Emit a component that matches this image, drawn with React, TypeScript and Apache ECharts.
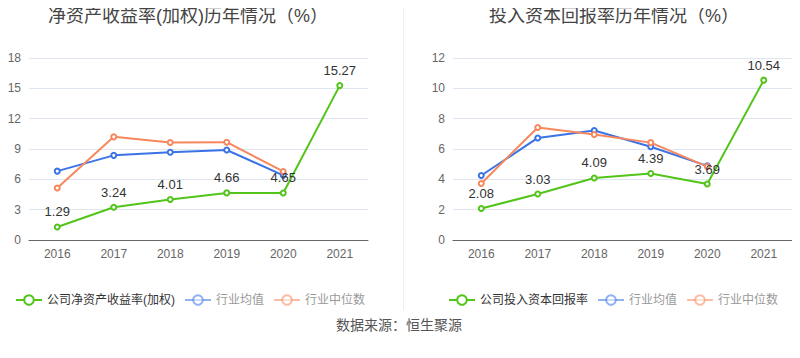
import React, { useEffect, useRef } from "react";
import * as echarts from "echarts";

const years = ["2016", "2017", "2018", "2019", "2020", "2021"];
const roeCompany = [1.29, 3.24, 4.01, 4.66, 4.65, 15.27];
const roeMean: (number | null)[] = [6.81, 8.37, 8.67, 8.9, 6.4, null];
const roeMedian: (number | null)[] = [5.15, 10.2, 9.64, 9.67, 6.78, null];
const roicCompany = [2.08, 3.03, 4.09, 4.39, 3.69, 10.54];
const roicMean: (number | null)[] = [4.25, 6.73, 7.22, 6.15, 4.89, null];
const roicMedian: (number | null)[] = [3.73, 7.42, 6.95, 6.42, 4.84, null];

const GREEN = "#52c41a";
const BLUE = "#3a73e6";
const ORANGE = "#f7875c";
const FONT = "Arial, 'Liberation Sans', 'Noto Sans CJK SC', sans-serif";

export default function App() {
  const ref = useRef<HTMLDivElement>(null);
  useEffect(() => {
    if (!ref.current) return;
    const chart = echarts.init(ref.current, null, { renderer: "svg" });
    const mkLine = (name: string, data: any[], color: string, idx: number, label: boolean, z: number) => ({
      name,
      type: "line",
      xAxisIndex: idx,
      yAxisIndex: idx,
      data,
      symbol: "emptyCircle",
      symbolSize: 5,
      z,
      lineStyle: { color, width: 2 },
      itemStyle: { color, borderWidth: 2 },
      label: label
        ? { show: true, position: "top", color: "#333", fontSize: 13, fontFamily: FONT }
        : { show: false },
    });
    const legendItem = (name: string, dim: boolean) =>
      dim
        ? { name, textStyle: { color: "#999" }, itemStyle: { opacity: 0.55 }, lineStyle: { opacity: 0.55 } }
        : { name, textStyle: { color: "#333" } };
    const xAxis = (gi: number) => ({
      type: "category",
      gridIndex: gi,
      data: years,
      boundaryGap: true,
      axisLine: { lineStyle: { color: "#666" } },
      axisTick: { show: false },
      axisLabel: { color: "#666", fontSize: 12, fontFamily: FONT, margin: 8 },
    });
    const yAxis = (gi: number, max: number, interval: number) => ({
      type: "value",
      gridIndex: gi,
      min: 0,
      max,
      interval,
      axisLine: { show: false },
      axisTick: { show: false },
      axisLabel: { color: "#666", fontSize: 12, fontFamily: FONT, margin: 8 },
      splitLine: { lineStyle: { color: "#e0e6f1" } },
    });
    const legendBase = {
      top: 289,
      itemWidth: 26,
      itemHeight: 12,
      itemGap: 9,
      textStyle: { fontSize: 12, fontFamily: FONT },
    };
    chart.setOption({
      animation: false,
      textStyle: { fontFamily: FONT },
      title: [
        {
          text: "净资产收益率(加权)历年情况（%）",
          left: 183,
          textAlign: "center",
          top: 2,
          textStyle: { fontSize: 18, fontWeight: "normal", color: "#444", fontFamily: FONT },
        },
        {
          text: "投入资本回报率历年情况（%）",
          left: 609,
          textAlign: "center",
          top: 2,
          textStyle: { fontSize: 18, fontWeight: "normal", color: "#444", fontFamily: FONT },
        },
      ],
      legend: [
        {
          ...legendBase,
          left: 10,
          data: [
            legendItem("公司净资产收益率(加权)", false),
            legendItem("行业均值", true),
            legendItem("行业中位数", true),
          ],
        },
        {
          ...legendBase,
          left: 443,
          data: [
            legendItem("公司投入资本回报率", false),
            legendItem("行业均值", true),
            legendItem("行业中位数", true),
          ],
        },
      ],
      grid: [
        { left: 29, top: 58, width: 339, height: 182 },
        { left: 453, top: 58, width: 339, height: 182 },
      ],
      xAxis: [xAxis(0), xAxis(1)],
      yAxis: [yAxis(0, 18, 3), yAxis(1, 12, 2)],
      graphic: [
        {
          type: "line",
          shape: { x1: 403.5, y1: 0, x2: 403.5, y2: 310 },
          style: { stroke: "#eeeeee", lineWidth: 1 },
        },
        {
          type: "text",
          x: 399,
          y: 325,
          style: {
            text: "数据来源：恒生聚源",
            fill: "#555",
            fontSize: 14,
            fontFamily: FONT,
            textAlign: "center",
            textVerticalAlign: "middle",
          },
        },
      ],
      series: [
        mkLine("行业均值", roeMean, BLUE, 0, false, 2),
        mkLine("行业中位数", roeMedian, ORANGE, 0, false, 2),
        mkLine("公司净资产收益率(加权)", roeCompany, GREEN, 0, true, 3),
        mkLine("行业均值", roicMean, BLUE, 1, false, 2),
        mkLine("行业中位数", roicMedian, ORANGE, 1, false, 2),
        mkLine("公司投入资本回报率", roicCompany, GREEN, 1, true, 3),
      ],
    });
    return () => chart.dispose();
  }, []);
  return <div ref={ref} style={{ width: 800, height: 358, margin: -8 }} />;
}
